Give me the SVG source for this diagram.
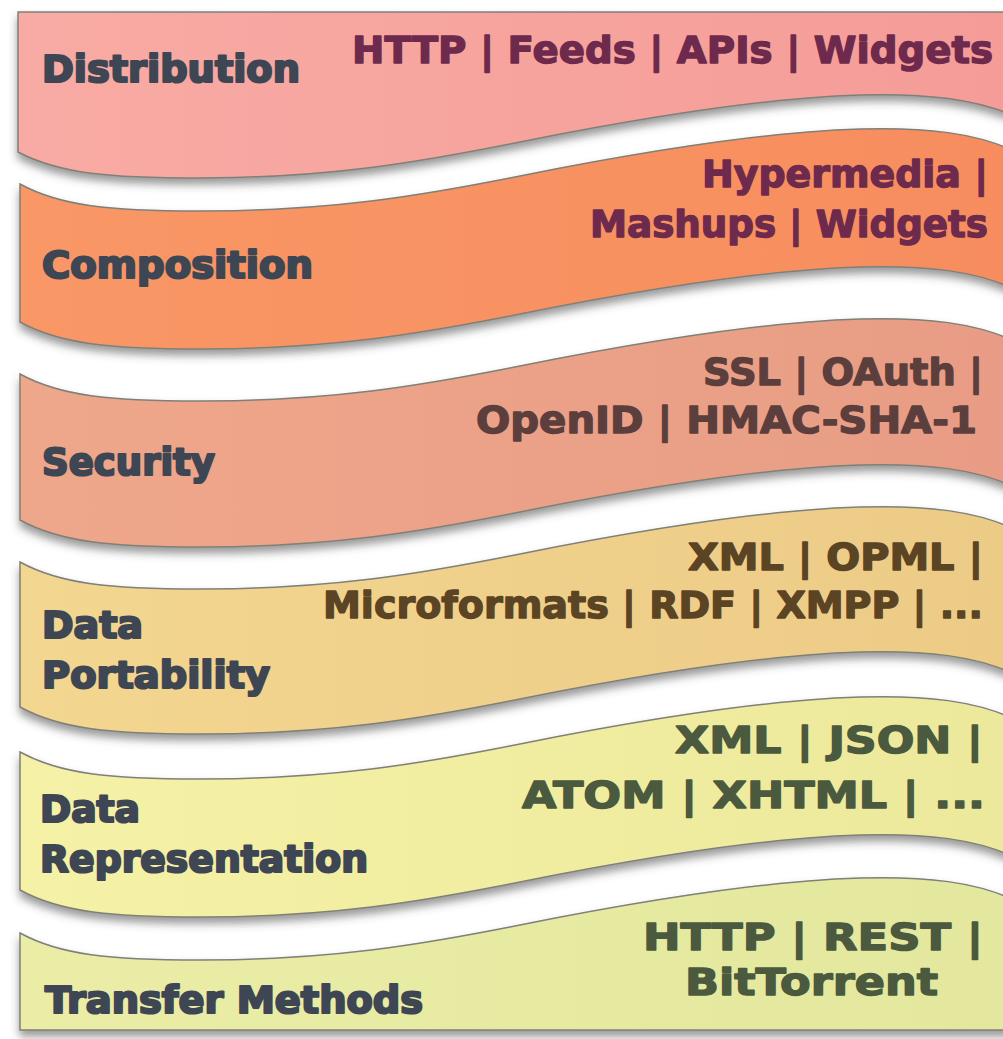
<svg xmlns="http://www.w3.org/2000/svg" width="1003" height="1039" viewBox="0 0 1003 1039">
<defs>
<filter id="sh" x="-5%" y="-15%" width="115%" height="140%">
<feDropShadow dx="0" dy="6" stdDeviation="4" flood-color="#4a4a4a" flood-opacity="0.55"/>
</filter>
<linearGradient id="g1" x1="0" y1="0" x2="1" y2="0"><stop offset="0" stop-color="#f8aba4"/><stop offset="1" stop-color="#f59c98"/></linearGradient>
<linearGradient id="g2" x1="0" y1="0" x2="1" y2="0"><stop offset="0" stop-color="#f99766"/><stop offset="1" stop-color="#f78d5e"/></linearGradient>
<linearGradient id="g3" x1="0" y1="0" x2="1" y2="0"><stop offset="0" stop-color="#efa78b"/><stop offset="1" stop-color="#e89c85"/></linearGradient>
<linearGradient id="g4" x1="0" y1="0" x2="1" y2="0"><stop offset="0" stop-color="#f3d690"/><stop offset="1" stop-color="#eccb87"/></linearGradient>
<linearGradient id="g5" x1="0" y1="0" x2="1" y2="0"><stop offset="0" stop-color="#f5f1a6"/><stop offset="1" stop-color="#ece99c"/></linearGradient>
<linearGradient id="g6" x1="0" y1="0" x2="1" y2="0"><stop offset="0" stop-color="#ebeda6"/><stop offset="1" stop-color="#e3e89e"/></linearGradient>
</defs>
<style>
.band{stroke:#808078;stroke-width:1.5;filter:url(#sh)}
.lbl{font-family:"DejaVu Sans","Liberation Sans",sans-serif;font-weight:bold;font-size:37px;fill:#3e4654;stroke:#3e4654;stroke-width:2.2;stroke-linejoin:round}
.tech{font-family:"DejaVu Sans","Liberation Sans",sans-serif;font-weight:bold;font-size:38px;stroke-width:1.4;stroke-linejoin:round}
.c1{fill:#6e2a4c;stroke:#6e2a4c}
.c3{fill:#5c3f3d;stroke:#5c3f3d}
.c4{fill:#5b4424;stroke:#5b4424}
.c5{fill:#4b5a3e;stroke:#4b5a3e}
</style>
<rect width="1003" height="1039" fill="#ffffff"/>

<g id="transfer-methods">
<path class="band" fill="url(#g6)" d="M20,933 C60,955 110,960 200,960 C330,960 420,945 520,925 C640,901 760,881 860,878 C930,876 975,883 1010,898 L1010,1030 L20,1030 Z"/>
<text class="lbl" x="45" y="1013" textLength="378" lengthAdjust="spacingAndGlyphs">Transfer Methods</text>
<text class="tech c5" x="643" y="950" textLength="340" lengthAdjust="spacingAndGlyphs">HTTP | REST |</text>
<text class="tech c5" x="685" y="995" textLength="253" lengthAdjust="spacingAndGlyphs">BitTorrent</text>
</g>

<g id="data-representation">
<path class="band" fill="url(#g5)" d="M20,752 C60,774 110,779 200,779 C330,779 420,764 520,744 C640,720 760,700 860,697 C930,695 975,702 1010,717 L1010,855 C975,840 930,833 860,835 C760,838 640,858 520,882 C420,902 330,917 200,917 C110,917 60,912 20,890 Z"/>
<text class="lbl" x="40" y="822" textLength="100" lengthAdjust="spacingAndGlyphs">Data</text>
<text class="lbl" x="40" y="872" textLength="328" lengthAdjust="spacingAndGlyphs">Representation</text>
<text class="tech c5" x="675" y="753" textLength="308" lengthAdjust="spacingAndGlyphs">XML | JSON |</text>
<text class="tech c5" x="522" y="808" textLength="463" lengthAdjust="spacingAndGlyphs">ATOM | XHTML | ...</text>
</g>

<g id="data-portability">
<path class="band" fill="url(#g4)" d="M20,562 C60,584 110,589 200,589 C330,589 420,574 520,554 C640,530 760,510 860,507 C930,505 975,512 1010,527 L1010,672 C975,657 930,650 860,652 C760,655 640,675 520,699 C420,719 330,734 200,734 C110,734 60,729 20,707 Z"/>
<text class="lbl" x="42" y="638" textLength="101" lengthAdjust="spacingAndGlyphs">Data</text>
<text class="lbl" x="42" y="688" textLength="228" lengthAdjust="spacingAndGlyphs">Portability</text>
<text class="tech c4" x="688" y="570" textLength="295" lengthAdjust="spacingAndGlyphs">XML | OPML |</text>
<text class="tech c4" x="323" y="618" textLength="660" lengthAdjust="spacingAndGlyphs">Microformats | RDF | XMPP | ...</text>
</g>

<g id="security">
<path class="band" fill="url(#g3)" d="M20,374 C60,396 110,401 200,401 C330,401 420,386 520,366 C640,342 760,322 860,319 C930,317 975,324 1010,339 L1010,485 C975,470 930,463 860,465 C760,468 640,488 520,512 C420,532 330,547 200,547 C110,547 60,542 20,520 Z"/>
<text class="lbl" x="42" y="475" textLength="173" lengthAdjust="spacingAndGlyphs">Security</text>
<text class="tech c3" x="703" y="385" textLength="280" lengthAdjust="spacingAndGlyphs">SSL | OAuth |</text>
<text class="tech c3" x="476" y="433" textLength="501" lengthAdjust="spacingAndGlyphs">OpenID | HMAC-SHA-1</text>
</g>

<g id="composition">
<path class="band" fill="url(#g2)" d="M20,184 C60,206 110,211 200,211 C330,211 420,196 520,176 C640,152 760,132 860,129 C930,127 975,134 1010,149 L1010,287 C975,272 930,265 860,267 C760,270 640,290 520,314 C420,334 330,349 200,349 C110,349 60,344 20,322 Z"/>
<text class="lbl" x="42" y="278" textLength="271" lengthAdjust="spacingAndGlyphs">Composition</text>
<text class="tech c1" x="702" y="187" textLength="286" lengthAdjust="spacingAndGlyphs">Hypermedia |</text>
<text class="tech c1" x="590" y="237" textLength="398" lengthAdjust="spacingAndGlyphs">Mashups | Widgets</text>
</g>

<g id="distribution">
<path class="band" fill="url(#g1)" d="M18,12 L1010,12 L1010,114 C975,100 930,93 860,95 C760,98 640,118 520,142 C420,162 330,178 200,178 C110,178 60,174 18,152 Z"/>
<text class="lbl" x="42" y="82" textLength="258" lengthAdjust="spacingAndGlyphs">Distribution</text>
<text class="tech c1" x="352" y="63" textLength="641" lengthAdjust="spacingAndGlyphs">HTTP | Feeds | APIs | Widgets</text>
</g>
</svg>
